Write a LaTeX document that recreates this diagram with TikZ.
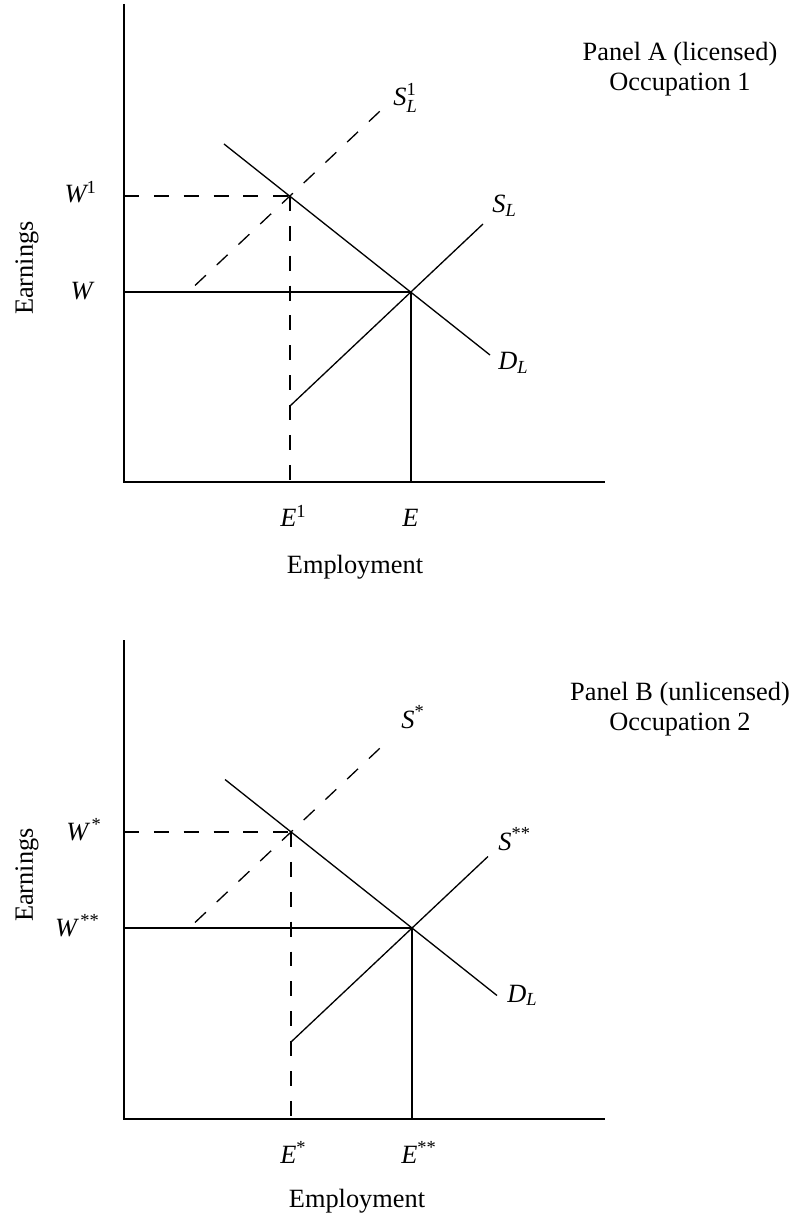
\documentclass[tikz,border=0pt]{standalone}
\usepackage{amsmath}
\usepackage{fontspec}
\setmainfont{Liberation Serif}
\usepackage{tikz}
\usetikzlibrary{calc}
\tikzset{
  axis/.style={line width=1.1pt},
  curve/.style={line width=0.75pt},
  guide/.style={line width=0.75pt, dash pattern=on 8.5pt off 8.5pt},
  lbl/.style={font=\fontsize{15}{17}\selectfont, inner sep=0pt},
}

\begin{document}
\begin{tikzpicture}[every node/.style={lbl}]
  \useasboundingbox (-2.48,-14.70) rectangle (13.42,9.64);
  % --- Panel A ---
  \begin{scope}
    \draw[axis] (0,9.56) -- (0,0) -- (9.62,0);
    % equilibrium W, E
    \draw[curve] (0,3.80) -- (5.74,3.80) -- (5.74,0);
    % licensed W1, E1
    \draw[guide] (0,5.72) -- (3.32,5.72);
    \draw[guide] (3.32,5.72) -- (3.32,0);
    % demand and supply
    \draw[curve] (2.00,6.76) -- (7.32,2.54);
    \draw[curve] (3.32,1.52) -- (7.18,5.16);
    \draw[guide] (1.42,3.93) -- (5.26,7.55);

    \node[anchor=base west] (sA1) at (5.38, 7.52) {$\textit{S}^{\textup{1}}_{\textit{L}}$};
    \node[anchor=base west] (sA) at (7.36, 5.38) {$\textit{S}_{\textit{L}}$};
    \node[anchor=base west] (dA) at (7.48, 2.24) {$\textit{D}_{\textit{L}}$};
    \node[anchor=base east] (wA1) at (-0.54, 5.58) {$\textit{W}^{\textup{1}}$};
    \node[anchor=base east] (wA) at (-0.58, 3.64) {\textit{W}};
    \node[anchor=base west] (eA1) at (3.12, -0.90) {$\textit{E}^{\textup{1}}$};
    \node[anchor=base west] (eA) at (5.56, -0.90) {\textit{E}};
    \node[anchor=base] (empA) at (4.62, -1.84) {Employment};
    \node[anchor=base, rotate=90] (earnA) at (-1.82, 4.28) {Earnings};
    \node[align=center] (panelA) at (11.12, 8.26) {Panel A (licensed)\\Occupation 1};
  \end{scope}

  % --- Panel B ---
  \begin{scope}[yshift=-12.74cm]
    \draw[axis] (0,9.58) -- (0,0) -- (9.62,0);
    % equilibrium W**, E**
    \draw[curve] (0,3.82) -- (5.76,3.82) -- (5.76,0);
    % W*, E*
    \draw[guide] (0,5.74) -- (3.34,5.74);
    \draw[guide] (3.34,5.74) -- (3.34,0);
    % demand and supply
    \draw[curve] (2.02,6.79) -- (7.46,2.47);
    \draw[curve] (3.34,1.54) -- (7.28,5.25);
    \draw[guide] (1.42,3.93) -- (5.26,7.55);

    \node[anchor=base west] (sB1) at (5.54, 7.82) {$\textit{S}^{\textup{*}}$};
    \node[anchor=base west] (sB) at (7.48, 5.38) {$\textit{S}^{\textup{**}}$};
    \node[anchor=base west] (dB) at (7.66, 2.34) {$\textit{D}_{\textit{L}}$};
    \node[anchor=base east] (wB1) at (-0.44, 5.58) {$\textit{W}^{\,\textup{*}}$};
    \node[anchor=base east] (wB) at (-0.48, 3.66) {$\textit{W}^{\,\textup{**}}$};
    \node[anchor=base west] (eB1) at (3.12, -0.88) {$\textit{E}^{\textup{*}}$};
    \node[anchor=base west] (eB) at (5.54, -0.88) {$\textit{E}^{\textup{**}}$};
    \node[anchor=base] (empB) at (4.66, -1.76) {Employment};
    \node[anchor=base, rotate=90] (earnB) at (-1.82, 4.88) {Earnings};
    \node[align=center] (panelB) at (11.12, 8.20) {Panel B (unlicensed)\\Occupation 2};
  \end{scope}
\end{tikzpicture}
\end{document}
